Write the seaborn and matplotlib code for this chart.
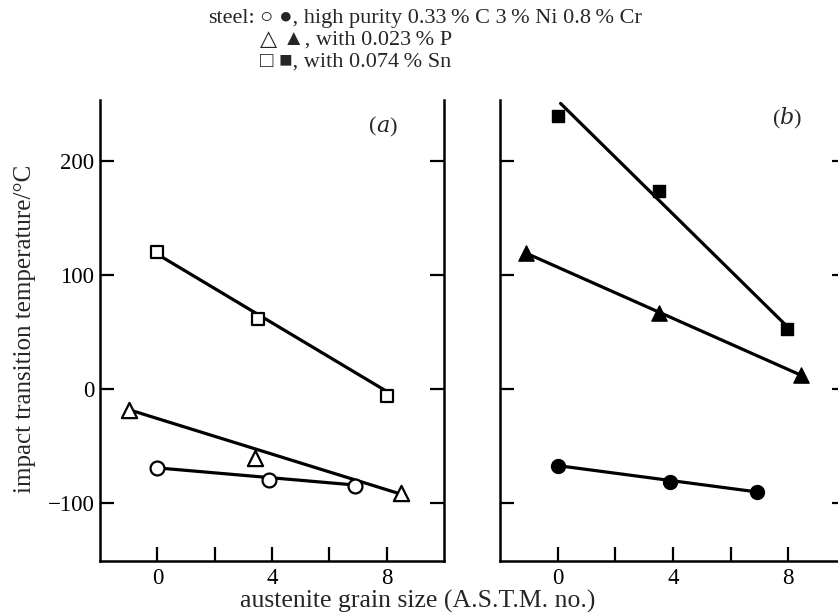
import numpy as np
import pandas as pd
import matplotlib
matplotlib.use("Agg")
import matplotlib.pyplot as plt
import seaborn as sns

# ---- data ----
# panel (a): open symbols
a_circle_x = [0, 3.9, 6.9]
a_circle_y = [-69, -80, -85]
a_tri_x = [-1.0, 3.4, 8.5]
a_tri_y = [-18, -60, -91]
a_sq_x = [0, 3.5, 8.0]
a_sq_y = [120, 61, -6]
# fitted lines in panel (a) (end points)
a_circle_line_x = [0, 6.9]
a_circle_line_y = [-69, -84]
a_tri_line_x = [-1.0, 8.5]
a_tri_line_y = [-18, -92]
a_sq_line_x = [0, 8.0]
a_sq_line_y = [118, -2]

# panel (b): filled symbols
b_circle_x = [0, 3.9, 6.9]
b_circle_y = [-67, -81, -90]
b_tri_x = [-1.1, 3.5, 8.45]
b_tri_y = [119, 67, 12]
b_sq_x = [0, 3.5, 7.95]
b_sq_y = [239, 173, 53]
b_circle_line_x = [0, 6.9]
b_circle_line_y = [-67, -90]
b_tri_line_x = [-1.1, 8.45]
b_tri_line_y = [119, 12]
b_sq_line_x = [0.1, 7.95]
b_sq_line_y = [250, 55]

x_major = [0, 4, 8]
x_minor = [2, 6]
y_ticks = [-100, 0, 100, 200]
y_tick_labels = ["\u2212100", "0", "100", "200"]

legend_lines = ["\u25cb \u25cf, high purity 0.33\u2009% C 3\u2009% Ni 0.8\u2009% Cr",
                "\u25b3 \u25b2, with 0.023\u2009% P",
                "\u25a1 \u25a0, with 0.074\u2009% Sn"]

sns.set_theme(style="ticks")
serif = ["Liberation Serif", "DejaVu Serif", "DejaVu Sans"]
plt.rcParams["font.family"] = serif
plt.rcParams["mathtext.fontset"] = "dejavuserif"

W, H = 838, 614
fig = plt.figure(figsize=(W / 100, H / 100), dpi=100)
fig.patch.set_facecolor("white")


def fr(x0, y0, x1, y1):
    return [x0 / W, 1 - y1 / H, (x1 - x0) / W, (y1 - y0) / H]


axa = fig.add_axes(fr(100, 100, 444, 561))
axb = fig.add_axes(fr(500, 100, 846, 561))

lw_line = 2.3
for ax in (axa, axb):
    ax.set_facecolor("white")
    ax.set_xlim(-2, 10)
    ax.set_ylim(-150.5, 253)
    ax.spines["top"].set_visible(False)
    for s in ("left", "right", "bottom"):
        ax.spines[s].set_linewidth(1.8)
        ax.spines[s].set_color("black")
    ax.set_xticks(x_major)
    ax.set_xticks(x_minor, minor=True)
    ax.set_yticks(y_ticks)
    ax.tick_params(axis="both", which="both", direction="in", length=10,
                   width=1.6, color="black", labelsize=16.5, labelcolor="black")
    ax.tick_params(axis="y", which="both", left=True, right=True, pad=4)
    ax.tick_params(axis="x", which="both", top=False, pad=5)
    ax.grid(False)

axa.set_yticklabels(y_tick_labels)
axb.set_yticklabels([])
axa.set_xticklabels([str(v) for v in x_major])
axb.set_xticklabels([str(v) for v in x_major])

# fitted lines
for ax, lx, ly in ((axa, a_circle_line_x, a_circle_line_y),
                   (axa, a_tri_line_x, a_tri_line_y),
                   (axa, a_sq_line_x, a_sq_line_y),
                   (axb, b_circle_line_x, b_circle_line_y),
                   (axb, b_tri_line_x, b_tri_line_y),
                   (axb, b_sq_line_x, b_sq_line_y)):
    sns.lineplot(x=lx, y=ly, ax=ax, color="black", linewidth=lw_line,
                 estimator=None, sort=False, legend=False, zorder=2)

# markers
marker_specs = [("o", 100), ("^", 120), ("s", 85)]
a_sets = [(a_circle_x, a_circle_y), (a_tri_x, a_tri_y), (a_sq_x, a_sq_y)]
b_sets = [(b_circle_x, b_circle_y), (b_tri_x, b_tri_y), (b_sq_x, b_sq_y)]
for (m, s), (x, y) in zip(marker_specs, a_sets):
    sns.scatterplot(x=x, y=y, ax=axa, marker=m, s=s, facecolor="white",
                    edgecolor="black", linewidth=1.6, legend=False, zorder=3)
for (m, s), (x, y) in zip(marker_specs, b_sets):
    sns.scatterplot(x=x, y=y, ax=axb, marker=m, s=s, color="black",
                    edgecolor="black", linewidth=1.0, legend=False, zorder=3)

axa.set_xlabel("")
axb.set_xlabel("")
axa.set_ylabel("")

# panel labels
fig.text(376 / W, 1 - 127 / H, "(", fontsize=16, ha="right", va="center")
fig.text(376 / W, 1 - 127 / H, "$a$)", fontsize=16, ha="left", va="center")
fig.text(787 / W, 1 - 118 / H, "($b$)", fontsize=16, ha="center", va="center")

# axis labels
fig.text(25 / W, 1 - 329 / H, "impact transition temperature/\u00b0C",
         rotation=90, fontsize=18, ha="center", va="center")
fig.text(418 / W, 1 - 601 / H, "austenite grain size (A.S.T.M. no.)",
         fontsize=18.5, ha="center", va="center")

# header key
fig.text(255 / W, 1 - 23 / H, "steel:", fontsize=16, ha="right",
         va="baseline", family=serif)
for i, t in enumerate(legend_lines):
    fig.text(260 / W, 1 - (23 + 22 * i) / H, t, fontsize=16, ha="left",
             va="baseline", family=serif)

fig.savefig("out.png", dpi=100, facecolor="white")
